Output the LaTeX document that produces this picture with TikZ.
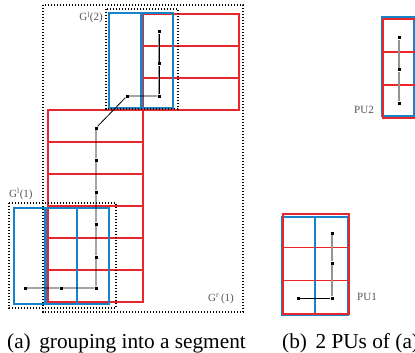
\documentclass[tikz,border=0pt]{standalone}
\usepackage{fontspec}
\setmainfont{Liberation Serif}
\definecolor{cred}{RGB}{234,38,44}
\definecolor{cblue}{RGB}{22,132,200}
\definecolor{clab}{RGB}{85,85,85}
\tikzset{
  gridr/.style={draw=cred, line width=1.2pt},
  gridb/.style={draw=cblue, line width=1.2pt},
  grp/.style={draw=black, line width=1.4pt, dash pattern=on 1.1pt off 1.9pt},
  pt/.style={fill=black, draw=none, rectangle, inner sep=0pt, minimum size=3pt},
  lnk/.style={draw=black, line width=0.8pt},
  lnkg/.style={draw=gray!85, line width=1.3pt},
  lbl/.style={text=clab, font=\fontsize{11}{12}\selectfont, inner sep=0pt},
  captext/.style={font=\fontsize{21.3}{24}\selectfont, inner sep=0pt, anchor=base west}
}
\begin{document}
\begin{tikzpicture}[x=1pt,y=-1pt]
\useasboundingbox (0,0) rectangle (415,353);
\clip (0,0) rectangle (415,353);
% ---------- (a) red grids
\foreach \i in {0,...,5}
  \draw[gridr] (48,110+32*\i) rectangle (143,142+32*\i);
\foreach \i in {0,1,2}
  \draw[gridr] (143,14+32*\i) rectangle (239,46+32*\i);
% blue blocks
\draw[gridb] (109,13) rectangle (141,108);
\draw[gridb] (142,13) rectangle (173,108);
\draw[gridb] (14,208) rectangle (45,304);
\draw[gridb] (46,208) rectangle (109,304);
\draw[gridb] (77,208) -- (77,304);
% dotted groups
\draw[grp] (43,5) rectangle (243,312);
\draw[grp] (106,9) rectangle (178,109);
\draw[grp] (9,203) rectangle (116,308);
% path points
\node[pt] (a1) at (25,288) {};
\node[pt] (a2) at (61,288) {};
\node[pt] (a3) at (96,288) {};
\node[pt] (a4) at (96,257) {};
\node[pt] (a5) at (96,224) {};
\node[pt] (a6) at (96,192) {};
\node[pt] (a7) at (96,160) {};
\node[pt] (a8) at (96,128) {};
\node[pt] (a9) at (127,96) {};
\node[pt] (a10) at (159,96) {};
\node[pt] (a11) at (159,64) {};
\node[pt] (a12) at (159,32) {};
\draw[lnk] (a1) -- (a2) -- (a3) -- (a4) -- (a5) -- (a6) -- (a7) -- (a8) -- (a9) -- (a10);
\draw[lnkg] (a10) -- (a11) -- (a12);
\draw[lnk] (a10) -- (a11) -- (a12);
% labels
\node[lbl, anchor=base east] (g2) at (103,21) {G\textsuperscript{l}(2)};
\node[lbl, anchor=base west] (g1) at (9,197) {G\textsuperscript{l}(1)};
\node[lbl, anchor=base west] (gr) at (208,301) {G\textsuperscript{r}\,(1)};
% ---------- (b) PU1
\draw[gridb] (282,217) rectangle (315,315);
\draw[gridb] (315,217) rectangle (348,315);
\foreach \i in {0,1,2}
  \draw[gridr] (283,214+33.3*\i) rectangle (349,247.3+33.3*\i);
\node[pt] (b1) at (332,233) {};
\node[pt] (b2) at (332,263) {};
\node[pt] (b3) at (332,298) {};
\node[pt] (b4) at (298,298) {};
\draw[lnkg] (b1) -- (b2) -- (b3);
\draw[lnk] (b3) -- (b4);
\node[lbl, anchor=base west] (pu1) at (357,300) {PU1};
% ---------- (b) PU2
\draw[gridb] (382,17) rectangle (414,116);
\foreach \i in {0,1,2}
  \draw[gridr] (383,19+33*\i) rectangle (420,52+33*\i);
\node[pt] (c1) at (399,38) {};
\node[pt] (c2) at (399,70) {};
\node[pt] (c3) at (399,103) {};
\draw[lnkg] (c1) -- (c2) -- (c3);
\node[lbl, anchor=base west] (pu2) at (354,113) {PU2};
% ---------- captions
\node[captext] (capa) at (7,348) {(a)\hspace{0.4em}grouping into a segment};
\node[captext] (capb) at (282,348) {(b)\hspace{0.4em}2 PUs of (a)};
\end{tikzpicture}
\end{document}
